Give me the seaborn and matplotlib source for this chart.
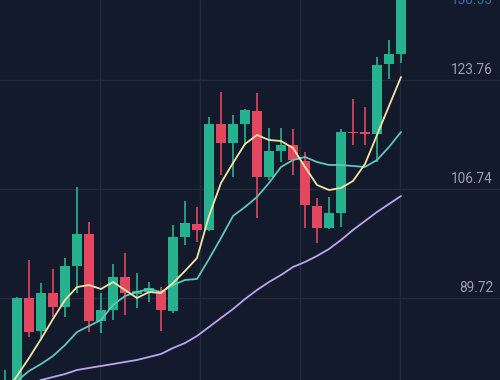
import numpy as np
import pandas as pd
import matplotlib
matplotlib.use("Agg")
import matplotlib.pyplot as plt
import seaborn as sns

# ---- data ----
opens = [74.6, 75.0, 89.72, 84.56, 90.50, 88.31, 94.71, 99.71, 86.13, 87.84,
         93.00, 90.34, 90.65, 90.81, 87.69, 99.24, 101.27, 100.34, 116.89, 113.92,
         116.89, 118.92, 108.61, 112.67, 113.61, 111.11, 104.08, 100.65, 102.99, 115.64,
         115.64, 115.33, 126.26, 127.82]
highs = [78.5, 89.9, 95.65, 92.06, 94.25, 95.96, 107.05, 101.59, 90.50, 95.03,
         96.74, 93.62, 92.22, 91.43, 101.12, 104.86, 103.93, 117.98, 121.89, 118.29,
         119.20, 121.73, 116.26, 116.26, 116.11, 112.52, 105.33, 105.49, 116.11, 120.79,
         119.54, 127.35, 130.00, 139.50]
lows = [73.8, 74.5, 83.63, 83.47, 86.75, 86.75, 90.50, 84.41, 84.25, 86.28,
        87.06, 88.16, 89.09, 84.56, 87.38, 97.99, 98.46, 100.20, 108.93, 108.61,
        113.61, 102.21, 108.14, 110.95, 108.93, 100.65, 98.31, 100.49, 100.80, 113.61,
        113.61, 110.95, 123.92, 126.41]
closes = [76.0, 89.72, 84.41, 90.50, 88.31, 94.71, 99.71, 86.13, 87.84, 93.00,
          90.50, 90.81, 91.28, 87.84, 99.24, 101.43, 100.34, 116.89, 113.92, 116.89,
          119.07, 108.61, 112.67, 113.61, 111.27, 104.24, 100.65, 102.99, 115.64, 115.48,
          115.33, 126.10, 127.82, 138.55]
ma_yellow = [75.04, 77.54, 80.35, 83.32, 86.44, 89.41, 91.43, 91.75, 91.12, 92.22,
             90.97, 89.72, 90.65, 90.50, 92.06, 93.94, 95.96, 102.52, 107.68, 110.80,
             113.77, 115.17, 114.39, 114.23, 113.14, 110.18, 107.37, 106.58, 106.90, 107.99,
             110.64, 115.17, 119.70, 124.23]
ma_teal = [75.35, 76.76, 78.32, 79.41, 80.66, 82.38, 84.41, 85.35, 86.28, 88.63,
           90.03, 90.65, 91.12, 90.65, 91.75, 92.53, 92.69, 95.81, 99.09, 102.52,
           103.93, 105.49, 107.68, 110.18, 111.27, 111.74, 110.95, 110.49, 110.49, 110.33,
           110.18, 111.27, 113.30, 115.64]
ma_purple = [74.10, 74.89, 75.98, 76.91, 77.38, 77.85, 78.48, 78.79, 79.10, 79.41,
             79.73, 80.04, 80.51, 80.98, 81.91, 82.69, 83.79, 85.19, 86.60, 88.00,
             89.56, 90.97, 92.22, 93.31, 94.56, 95.34, 96.28, 97.37, 98.78, 100.34,
             101.74, 103.15, 104.40, 105.65]
price_ticks = [89.72, 106.74, 123.76]
last_label = "138.55"

# ---- styling ----
BG = "#131a2b"
GRID = "#222a3c"
UP = "#27b28f"
DOWN = "#e2475f"

sns.set_theme(style="dark")
plt.rcParams['font.family'] = ['Roboto', 'DejaVu Sans']

n = len(opens)
idx = np.arange(n)
df = pd.DataFrame({"i": idx, "open": opens, "high": highs, "low": lows, "close": closes,
                   "ma1": ma_yellow, "ma2": ma_teal, "ma3": ma_purple})

fig = plt.figure(figsize=(5, 3.8), dpi=100, facecolor=BG)
ax = fig.add_axes([0, 0, 1, 1])
ax.set_facecolor(BG)

x_lo, x_hi = -5 / 12, 495 / 12
ax.set_xlim(x_lo, x_hi)
ax.set_ylim(76.915, 136.252)

# grid
for v in price_ticks:
    ax.axhline(v, color=GRID, lw=1.0, zorder=0)
for f in [0.2, 0.4, 0.6, 0.8]:
    ax.axvline(x_lo + f * (x_hi - x_lo), color=GRID, lw=1.0, zorder=0)

# candles
up = df["close"] >= df["open"]
colors = np.where(up, UP, DOWN)
ax.vlines(df["i"], df["low"], df["high"], colors=colors, lw=1.2, zorder=2)
bottoms = np.minimum(df["open"], df["close"])
heights = np.maximum(np.abs(df["close"] - df["open"]), 0.2)
ax.bar(df["i"], heights, bottom=bottoms, width=0.8, color=colors, edgecolor="none", zorder=3)

# moving average lines
sns.lineplot(data=df, x="i", y="ma3", ax=ax, color="#bba5f0", lw=1.3, zorder=4)
sns.lineplot(data=df, x="i", y="ma2", ax=ax, color="#5fc6bd", lw=1.3, zorder=4)
sns.lineplot(data=df, x="i", y="ma1", ax=ax, color="#f3e4a4", lw=1.3, zorder=5)

# price labels
for v in price_ticks:
    ax.annotate(f"{v:.2f}", xy=(0.986, v), xycoords=("axes fraction", "data"),
                xytext=(0, 3), textcoords="offset pixels", ha="right", va="bottom",
                color="#9aa0ad", fontsize=9.8, zorder=6)
ax.text(0.986, 1.0, last_label, transform=ax.transAxes, ha="right", va="center",
        color="#3f69a6", fontsize=9.8, zorder=6)

ax.set_xlabel("")
ax.set_ylabel("")
ax.set_xticks([])
ax.set_yticks([])
for s in ax.spines.values():
    s.set_visible(False)

fig.savefig("out.png", dpi=100, facecolor=BG)
